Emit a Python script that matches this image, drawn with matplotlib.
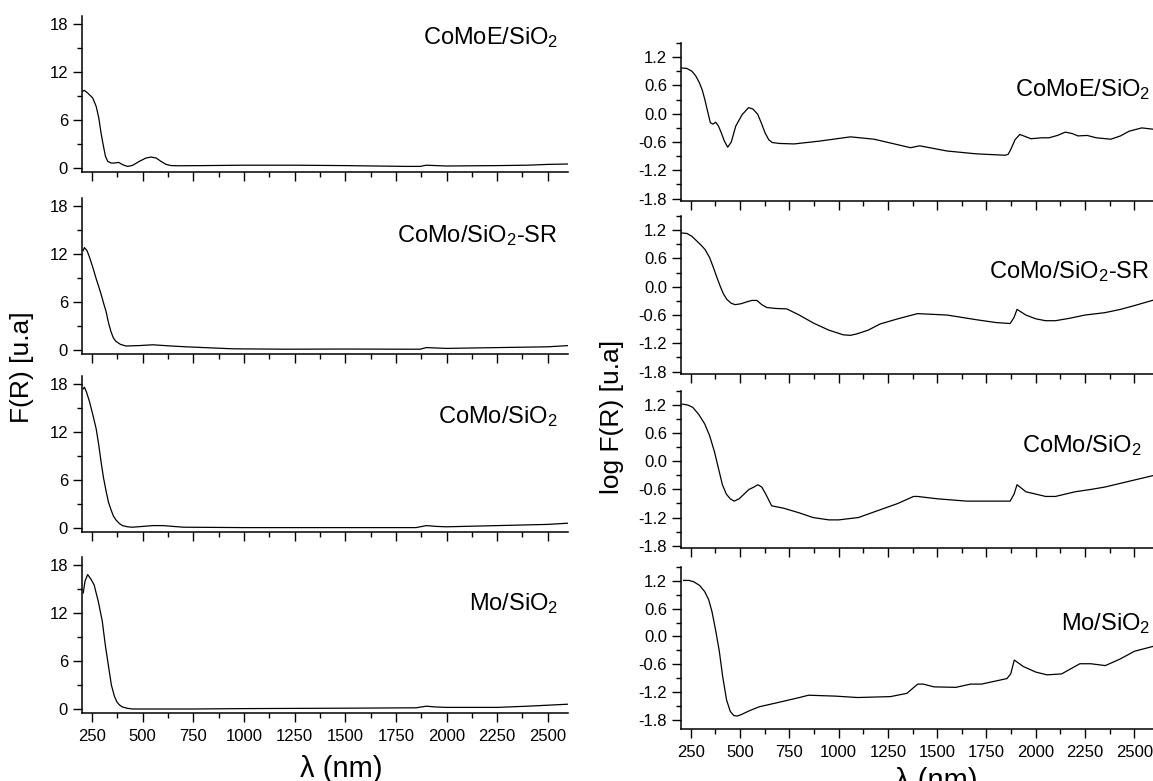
import matplotlib
matplotlib.use("Agg")
import matplotlib.pyplot as plt
from matplotlib.ticker import FixedLocator, NullFormatter

plt.rcParams['font.family'] = ['Liberation Sans', 'DejaVu Sans']
plt.rcParams['mathtext.default'] = 'regular'
plt.rcParams['axes.unicode_minus'] = False

# ---- data ----
samples = ["CoMoE/SiO$_2$", "CoMo/SiO$_2$-SR", "CoMo/SiO$_2$", "Mo/SiO$_2$"]

# F(R), left column
wl_comoe = [201, 212, 228, 253, 270, 283, 294, 306, 316, 327, 344, 360, 381, 401, 425, 450, 483, 516,
            541, 566, 590, 615, 640, 680, 800, 1000, 1250, 1500, 1800, 1870, 1900, 1950, 2000, 2250,
            2400, 2500, 2600]
fr_comoe = [9.58, 9.7, 9.37, 8.75, 7.7, 6.25, 4.37, 2.7, 1.45, 0.83, 0.62, 0.62, 0.7, 0.41, 0.2, 0.33,
            0.83, 1.25, 1.37, 1.25, 0.83, 0.45, 0.3, 0.28, 0.3, 0.35, 0.35, 0.3, 0.2, 0.2, 0.35, 0.3,
            0.25, 0.3, 0.35, 0.45, 0.5]

wl_como_sr = [205, 212, 225, 237, 255, 270, 283, 294, 306, 319, 331, 343, 355, 367, 390, 417, 480, 549,
              640, 713, 850, 943, 1200, 1500, 1800, 1870, 1900, 1950, 2000, 2250, 2500, 2600]
fr_como_sr = [12.4, 12.8, 12.4, 11.6, 10.2, 8.9, 7.9, 7.0, 5.9, 4.8, 3.4, 2.3, 1.5, 1.1, 0.7, 0.5, 0.55,
              0.65, 0.5, 0.4, 0.25, 0.15, 0.1, 0.12, 0.1, 0.1, 0.3, 0.25, 0.2, 0.3, 0.4, 0.55]

wl_como = [206, 212, 222, 237, 255, 270, 282, 294, 306, 319, 331, 343, 355, 368, 385, 400, 425, 450,
           500, 550, 600, 700, 1000, 1500, 1850, 1900, 1950, 2000, 2250, 2500, 2600]
fr_como = [17.4, 17.6, 17.0, 15.8, 14.0, 12.4, 10.5, 8.3, 6.3, 4.6, 3.2, 2.3, 1.5, 1.0, 0.55, 0.3,
           0.15, 0.1, 0.2, 0.3, 0.3, 0.1, 0.05, 0.05, 0.05, 0.3, 0.2, 0.15, 0.3, 0.45, 0.6]

wl_mo = [206, 215, 228, 245, 260, 280, 300, 315, 330, 345, 360, 372, 385, 400, 425, 450, 750, 1000,
         1500, 1850, 1900, 1950, 2000, 2250, 2400, 2600]
fr_mo = [14.5, 16.0, 16.8, 16.2, 15.5, 13.5, 11.0, 8.0, 5.5, 3.0, 1.6, 0.9, 0.5, 0.25, 0.08, 0.0, 0.0,
         0.05, 0.1, 0.15, 0.35, 0.25, 0.2, 0.2, 0.35, 0.6]

# log F(R), right column
wl_log_comoe = [204, 230, 256, 275, 293, 308, 321, 335, 349, 362, 376, 390, 404, 420, 437, 455, 478,
                510, 543, 565, 589, 608, 626, 645, 663, 700, 774, 903, 1060, 1180, 1365, 1411, 1550,
                1698, 1845, 1860, 1873, 1895, 1919, 1945, 1975, 2030, 2067, 2110, 2150, 2185, 2214,
                2261, 2307, 2381, 2430, 2474, 2538, 2600]
lg_comoe = [0.97, 0.96, 0.90, 0.80, 0.66, 0.50, 0.30, 0.05, -0.19, -0.22, -0.18, -0.26, -0.40, -0.58,
            -0.71, -0.60, -0.26, -0.02, 0.13, 0.10, -0.01, -0.20, -0.40, -0.55, -0.61, -0.63, -0.64,
            -0.58, -0.49, -0.54, -0.72, -0.68, -0.79, -0.85, -0.88, -0.86, -0.76, -0.55, -0.44,
            -0.48, -0.53, -0.51, -0.51, -0.46, -0.39, -0.42, -0.47, -0.46, -0.51, -0.54, -0.47,
            -0.37, -0.30, -0.33]

wl_log_como_sr = [204, 230, 255, 280, 300, 322, 345, 365, 382, 399, 415, 433, 455, 475, 505, 534, 560,
                  585, 610, 635, 680, 737, 800, 872, 950, 1024, 1060, 1092, 1150, 1210, 1300, 1400,
                  1550, 1700, 1800, 1870, 1890, 1905, 1950, 2000, 2050, 2100, 2170, 2250, 2350,
                  2430, 2500, 2600]
lg_como_sr = [1.14, 1.13, 1.07, 0.97, 0.89, 0.79, 0.62, 0.40, 0.20, 0.01, -0.15, -0.27, -0.35, -0.38,
              -0.36, -0.32, -0.29, -0.29, -0.38, -0.44, -0.46, -0.47, -0.6, -0.77, -0.92, -1.02,
              -1.03, -1.0, -0.92, -0.79, -0.68, -0.57, -0.6, -0.7, -0.76, -0.78, -0.65, -0.48, -0.6,
              -0.68, -0.72, -0.72, -0.67, -0.6, -0.55, -0.48, -0.4, -0.28]

wl_log_como = [208, 235, 260, 290, 320, 345, 370, 390, 410, 430, 450, 470, 495, 520, 545, 570, 590,
               610, 630, 660, 720, 800, 870, 950, 1000, 1100, 1200, 1300, 1380, 1400, 1500, 1650,
               1870, 1890, 1905, 1950, 2050, 2100, 2200, 2280, 2350, 2450, 2600]
lg_como = [1.22, 1.2, 1.15, 1.0, 0.8, 0.55, 0.2, -0.15, -0.5, -0.7, -0.8, -0.85, -0.8, -0.7, -0.6,
           -0.55, -0.5, -0.55, -0.7, -0.95, -1.0, -1.1, -1.2, -1.25, -1.25, -1.2, -1.05, -0.9, -0.75,
           -0.75, -0.8, -0.85, -0.85, -0.7, -0.5, -0.65, -0.75, -0.75, -0.65, -0.6, -0.55, -0.45, -0.3]

wl_log_mo = [213, 240, 265, 295, 320, 340, 357, 375, 394, 412, 431, 450, 468, 485, 505, 550, 597, 690,
             801, 847, 985, 1096, 1263, 1346, 1401, 1429, 1484, 1595, 1669, 1725, 1854, 1873, 1891,
             1937, 2000, 2057, 2131, 2224, 2279, 2353, 2427, 2501, 2600]
lg_mo = [1.21, 1.21, 1.18, 1.1, 0.97, 0.8, 0.54, 0.15, -0.31, -0.88, -1.37, -1.62, -1.71, -1.72,
         -1.69, -1.6, -1.52, -1.43, -1.32, -1.27, -1.29, -1.32, -1.30, -1.23, -1.03, -1.03, -1.09,
         -1.10, -1.03, -1.03, -0.91, -0.81, -0.51, -0.65, -0.77, -0.83, -0.81, -0.59, -0.59, -0.63,
         -0.49, -0.32, -0.21]

left_series = [(wl_comoe, fr_comoe), (wl_como_sr, fr_como_sr), (wl_como, fr_como), (wl_mo, fr_mo)]
right_series = [(wl_log_comoe, lg_comoe), (wl_log_como_sr, lg_como_sr),
                (wl_log_como, lg_como), (wl_log_mo, lg_mo)]

W, H = 1153, 781
fig = plt.figure(figsize=(W / 100, H / 100), dpi=100)


def px_axes(x0, x1, top, bottom):
    return fig.add_axes([x0 / W, 1 - bottom / H, (x1 - x0) / W, (bottom - top) / H])


def style(ax, last):
    for s in ("top", "right"):
        ax.spines[s].set_visible(False)
    for s in ("left", "bottom"):
        ax.spines[s].set_linewidth(1.1)
    ax.set_xlim(200, 2600)
    ax.xaxis.set_major_locator(FixedLocator(range(250, 2600, 250)))
    ax.xaxis.set_minor_locator(FixedLocator(range(375, 2600, 250)))
    ax.tick_params(which="major", direction="out", length=6.5, width=1.0, labelsize=12)
    ax.tick_params(which="minor", direction="out", length=3.5, width=1.0)
    ax.tick_params(axis="x", which="major", pad=5)
    if not last:
        ax.xaxis.set_major_formatter(NullFormatter())


left_box = [(16, 172), (198, 354), (376, 532), (557, 713)]
right_box = [(43, 201), (216, 374), (391, 548), (567, 729)]
right_lo = [-1.85, -1.85, -1.85, -2.0]
left_txt_y = [38, 236, 417, 604]
right_txt_y = [90, 272, 446, 624]
right_txt_x = [1150, 1150, 1142, 1150]

for i, (top, bot) in enumerate(left_box):
    ax = px_axes(82, 568, top, bot)
    wl, fr = left_series[i]
    ax.plot(wl, fr, color="black", lw=0.9)
    ax.set_ylim(-0.5, 19)
    ax.yaxis.set_major_locator(FixedLocator([0, 6, 12, 18]))
    ax.yaxis.set_minor_locator(FixedLocator([3, 9, 15]))
    style(ax, i == 3)
    fig.text(558 / W, 1 - left_txt_y[i] / H, samples[i], ha="right", va="center", fontsize=17)

for i, (top, bot) in enumerate(right_box):
    ax = px_axes(681, 1154, top, bot)
    wl, lg = right_series[i]
    ax.plot(wl, lg, color="black", lw=0.9)
    ax.set_ylim(right_lo[i], 1.5)
    ax.yaxis.set_major_locator(FixedLocator([-1.8, -1.2, -0.6, 0.0, 0.6, 1.2]))
    ax.yaxis.set_minor_locator(FixedLocator([-1.5, -0.9, -0.3, 0.3, 0.9, 1.5]))
    ax.yaxis.set_major_formatter(plt.FormatStrFormatter("%.1f"))
    style(ax, i == 3)
    fig.text(right_txt_x[i] / W, 1 - right_txt_y[i] / H, samples[i], ha="right", va="center", fontsize=17)

# axis titles (the reference crops the bottom of the x titles)
fig.text(341 / W, 1 - 777 / H, "λ (nm)", ha="center", va="baseline", fontsize=21)
fig.text(936 / W, 1 - 789 / H, "λ (nm)", ha="center", va="baseline", fontsize=21)
fig.text(22 / W, 1 - 367 / H, "F(R) [u.a]", rotation=90, ha="center", va="center", fontsize=19)
fig.text(612 / W, 1 - 417 / H, "log F(R) [u.a]", rotation=90, ha="center", va="center", fontsize=19)

fig.savefig("out.png", dpi=100)
